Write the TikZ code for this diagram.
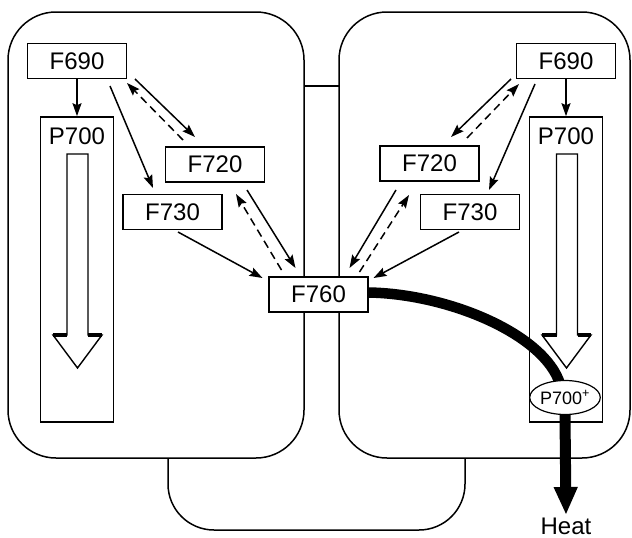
\documentclass[tikz,border=0pt]{standalone}
\usepackage{fontspec}
\setmainfont{Liberation Sans}
\usetikzlibrary{arrows.meta,shapes.geometric,calc}
\begin{document}
\begin{tikzpicture}[x=1pt,y=-1pt,
 frame/.style={line width=1.5pt},
 lbl/.style={draw,fill=white,line width=1.6pt,minimum width=99pt,minimum height=35pt,inner sep=0pt,font=\fontsize{24}{26}\selectfont},
 txt/.style={inner sep=0pt,font=\fontsize{24}{26}\selectfont},
 psbox/.style={draw,line width=1.6pt,minimum width=73pt,minimum height=305pt,inner sep=0pt},
 arr/.style={line width=1.5pt,-{Stealth[length=13pt,width=9pt,inset=2pt]}},
 darr/.style={arr,dash pattern=on 8pt off 5pt},
 hollow/.style={draw,fill=white,line width=1.4pt,line join=miter}
]
\useasboundingbox (0,0) rectangle (632,538);
% frames
\draw[frame,rounded corners=48pt] (8,12) rectangle (304,458);
\draw[frame,rounded corners=48pt] (339,12) rectangle (630,458);
\draw[frame] (304,86) -- (339,86);
\draw[frame,rounded corners=46pt] (168,458) -- (168,530) -- (465,530) -- (465,458);

% left side
\node[lbl] (L690) at (77,61) {F690};
\node[psbox] (LP) at (77,269.5) {};
\node[txt] (LPt) at (77,136) {P700};
\draw[hollow] (67,154) -- (88,154) -- (88,335) -- (102,335) -- (77.5,368) -- (53,335) -- (67,335) -- cycle;
\draw[line width=3.5pt] (53,335) -- (67,335) (88,335) -- (102,335);
\node[lbl] (L720) at (215,164.5) {F720};
\node[lbl] (L730) at (172.5,212) {F730};

% right side
\node[lbl] (R690) at (566,61) {F690};
\node[psbox] (RP) at (566,269.5) {};
\node[txt] (RPt) at (566,136) {P700};
\draw[hollow] (556.5,154) -- (577.5,154) -- (577.5,335) -- (591,335) -- (566.5,368) -- (542,335) -- (556.5,335) -- cycle;
\draw[line width=3.5pt] (542,335) -- (556.5,335) (577.5,335) -- (591,335);
\node[lbl] (R720) at (429.5,163.5) {F720};
\node[lbl] (R730) at (470,212) {F730};

\node[lbl] (F760) at (318.5,294.5) {F760};

% left arrows
\draw[arr] (L690.south) -- (LP.north);
\draw[arr] ([shift={(33,25)}]L690.center) -- ([shift={(-19.5,-24)}]L730.center);
\draw[arr] ([shift={(58,18)}]L690.center) -- ([shift={(-20,-27.5)}]L720.center);
\draw[darr] ([shift={(-32,-24.5)}]L720.center) -- ([shift={(50,22)}]L690.center);
\draw[arr] ([shift={(32,25.5)}]L720.center) -- ([shift={(-23,-26.5)}]F760.center);
\draw[darr] ([shift={(-37,-24.5)}]F760.center) -- ([shift={(21,29.5)}]L720.center);
\draw[arr] ([shift={(5.5,20)}]L730.center) -- ([shift={(-56,-16.5)}]F760.center);

% right arrows
\draw[arr] (R690.south) -- (RP.north);
\draw[arr] ([shift={(-55,18)}]R690.center) -- ([shift={(21.5,-26.5)}]R720.center);
\draw[darr] ([shift={(37.5,-25.5)}]R720.center) -- ([shift={(-47,23)}]R690.center);
\draw[arr] ([shift={(-31,23)}]R690.center) -- ([shift={(19,-22)}]R730.center);
\draw[arr] ([shift={(-33.5,26.5)}]R720.center) -- ([shift={(31,-26.5)}]F760.center);
\draw[darr] ([shift={(41,-22.5)}]F760.center) -- ([shift={(-20.5,31.5)}]R720.center);
\draw[arr] ([shift={(-11,20)}]R730.center) -- ([shift={(55,-16.5)}]F760.center);

% P700+ and heat
\draw[line width=10.5pt] ([shift={(0,-2)}]F760.east) .. controls (450,294) and (545,335) .. (560,384);
\node[draw,ellipse,fill=white,line width=1.2pt,minimum width=66pt,minimum height=34pt,inner sep=0pt,font=\fontsize{18}{20}\selectfont] (P7p) at (565,397.5) {P700\textsuperscript{+}};
\coordinate (heattip) at (566,515);
\draw[line width=11pt,-{Triangle[length=28pt,width=22pt]}] (P7p.south) -- (heattip);
\node[txt,anchor=base] (heat) at (566,534) {Heat};
\end{tikzpicture}
\end{document}
